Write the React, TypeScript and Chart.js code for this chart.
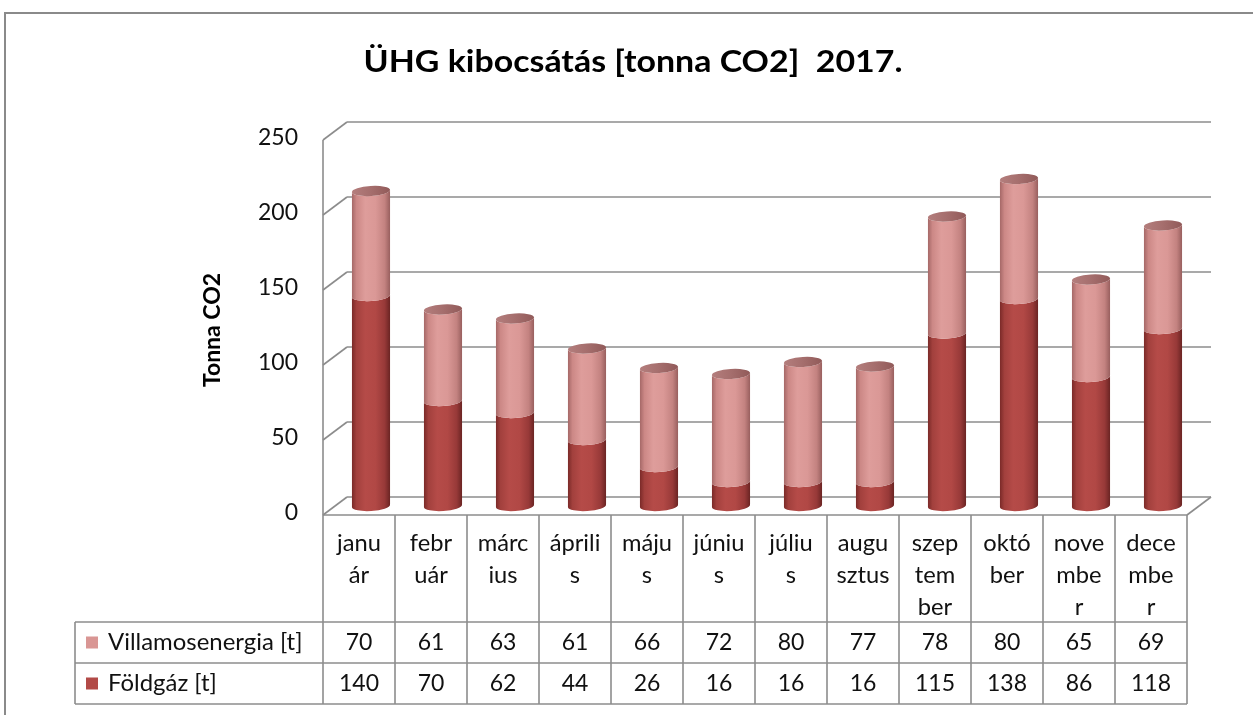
import React, { useEffect, useRef } from "react";
import { Chart, registerables } from "chart.js";
Chart.register(...registerables);

const categories = ["január", "február", "március", "április", "május", "június", "július", "augusztus", "szeptember", "október", "november", "december"];
const categoryLines = [["janu", "ár"], ["febr", "uár"], ["márc", "ius"], ["áprili", "s"], ["máju", "s"], ["júniu", "s"], ["júliu", "s"], ["augu", "sztus"], ["szep", "tem", "ber"], ["októ", "ber"], ["nove", "mbe", "r"], ["dece", "mbe", "r"]];
const villamos = [70, 61, 63, 61, 66, 72, 80, 77, 78, 80, 65, 69];
const foldgaz = [140, 70, 62, 44, 26, 16, 16, 16, 115, 138, 86, 118];
const yTicks = [0, 50, 100, 150, 200, 250];
const villamosName = "Villamosenergia [t]";
const foldgazName = "Földgáz [t]";
const titleText = "ÜHG kibocsátás [tonna CO2]  2017.";
const yTitleText = "Tonna CO2";

const DARK = "#B24A47";
const LIGHT = "#D99694";
const GRID = "#8c8c8c";
const FONT = "Lato, 'Open Sans', sans-serif";

const DX = 12; // depth half offset x
const DY = 9; // depth half offset y
const ROT = -0.06;

function mkGrad(ctx: CanvasRenderingContext2D, l: number, r: number, stops: [number, string][]) {
  const g = ctx.createLinearGradient(l, 0, r, 0);
  stops.forEach(([o, c]) => g.addColorStop(o, c));
  return g;
}

function drawText(ctx: CanvasRenderingContext2D, text: string, x: number, y: number, align: CanvasTextAlign, sx = 1) {
  ctx.save();
  ctx.translate(x, y);
  ctx.scale(sx, 1);
  ctx.textAlign = align;
  ctx.fillText(text, 0, 0);
  ctx.restore();
}

const darkStops: [number, string][] = [[0, "#7a2a28"], [0.12, "#a2403d"], [0.35, "#b54b48"], [0.62, "#b14845"], [0.86, "#973938"], [1, "#6a2423"]];
const lightStops: [number, string][] = [[0, "#a56867"], [0.12, "#cc8886"], [0.35, "#de9d9b"], [0.62, "#da9896"], [0.86, "#c38280"], [1, "#985f5e"]];
const capStops: [number, string][] = [[0, "#b47e7d"], [0.5, "#a56e6d"], [1, "#915a59"]];

const chartPlugin = {
  id: "cyl3d",
  beforeDatasetsDraw(chart: any) {
    const ctx: CanvasRenderingContext2D = chart.ctx;
    const ys = chart.scales.y;
    const ca = chart.chartArea;
    const fl = ca.left - DX, fr = ca.right - DX;
    const bl = ca.left + DX, br = ca.right + DX;
    ctx.save();
    ctx.strokeStyle = GRID;
    ctx.lineWidth = 1.6;
    yTicks.forEach((v) => {
      const py = ys.getPixelForValue(v);
      ctx.beginPath();
      ctx.moveTo(bl, py - DY);
      ctx.lineTo(br, py - DY);
      ctx.stroke();
      ctx.beginPath();
      ctx.moveTo(fl, py + DY);
      ctx.lineTo(bl, py - DY);
      ctx.stroke();
    });
    const topF = ys.getPixelForValue(yTicks[yTicks.length - 1]) + DY;
    const botF = ys.getPixelForValue(0) + DY;
    ctx.beginPath();
    ctx.moveTo(fl, topF);
    ctx.lineTo(fl, botF);
    ctx.stroke();
    ctx.beginPath();
    ctx.moveTo(fr, botF);
    ctx.lineTo(br, botF - 2 * DY);
    ctx.stroke();
    ctx.beginPath();
    ctx.moveTo(fl, botF);
    ctx.lineTo(fr, botF);
    ctx.stroke();
    ctx.fillStyle = "#111";
    ctx.font = `23px ${FONT}`;
    ctx.textBaseline = "middle";
    yTicks.forEach((v) => {
      drawText(ctx, String(v), 298, ys.getPixelForValue(v) + DY - 2, "right");
    });
    ctx.restore();
  },
  afterDatasetsDraw(chart: any) {
    const ctx: CanvasRenderingContext2D = chart.ctx;
    const nD = chart.data.datasets.length;
    ctx.save();
    for (let d = 0; d < nD; d++) {
      const meta = chart.getDatasetMeta(d);
      meta.data.forEach((el: any) => {
        const p = el.getProps(["x", "y", "base", "width"], true);
        const rx = p.width / 2;
        const ry = 5;
        const l = p.x - rx, r = p.x + rx;
        ctx.beginPath();
        ctx.ellipse(p.x, p.base, rx, ry, ROT, Math.PI, 0, true);
        ctx.lineTo(p.x + rx * Math.cos(ROT), p.y + rx * Math.sin(ROT));
        ctx.ellipse(p.x, p.y, rx, ry, ROT, 0, Math.PI, false);
        ctx.closePath();
        ctx.fillStyle = mkGrad(ctx, l, r, d === 0 ? darkStops : lightStops);
        ctx.fill();
        if (d === nD - 1) {
          ctx.beginPath();
          ctx.ellipse(p.x, p.y, rx, ry, ROT, 0, Math.PI * 2);
          ctx.fillStyle = mkGrad(ctx, l, r, capStops);
          ctx.fill();
        }
      });
    }
    ctx.restore();
  },
  afterDraw(chart: any) {
    const ctx: CanvasRenderingContext2D = chart.ctx;
    const xs = chart.scales.x;
    const ys = chart.scales.y;
    const n = categories.length;
    const cw = (xs.right - xs.left) / n;
    const colLeft = (i: number) => xs.getPixelForValue(0) - cw / 2 - DX + i * cw;
    const top = ys.getPixelForValue(0) + DY;
    const rowTop = 622, rowMid = 663, rowBot = 704, tableLeft = 75;
    ctx.save();
    ctx.strokeStyle = "#8a8a8a";
    ctx.lineWidth = 2;
    ctx.beginPath();
    ctx.moveTo(5, 720);
    ctx.lineTo(5, 13);
    ctx.lineTo(1260, 13);
    ctx.stroke();
    ctx.strokeStyle = GRID;
    ctx.lineWidth = 1.6;
    for (let i = 0; i <= n; i++) {
      ctx.beginPath();
      ctx.moveTo(colLeft(i), top);
      ctx.lineTo(colLeft(i), rowBot);
      ctx.stroke();
    }
    [rowTop, rowMid, rowBot].forEach((y) => {
      ctx.beginPath();
      ctx.moveTo(tableLeft, y);
      ctx.lineTo(colLeft(n), y);
      ctx.stroke();
    });
    ctx.beginPath();
    ctx.moveTo(tableLeft, rowTop);
    ctx.lineTo(tableLeft, rowBot);
    ctx.stroke();
    ctx.fillStyle = "#111";
    ctx.font = `23px ${FONT}`;
    ctx.textBaseline = "middle";
    categoryLines.forEach((lines, i) => {
      const cx = colLeft(i) + cw / 2;
      lines.forEach((s, k) => drawText(ctx, s, cx, 544 + k * 32, "center", 1.03));
    });
    const rows: [string, number[], string][] = [[villamosName, villamos, LIGHT], [foldgazName, foldgaz, DARK]];
    rows.forEach(([name, vals, col], ri) => {
      const cy = ri === 0 ? (rowTop + rowMid) / 2 : (rowMid + rowBot) / 2;
      vals.forEach((v, i) => drawText(ctx, String(v), colLeft(i) + cw / 2, cy, "center"));
      ctx.fillStyle = col;
      ctx.fillRect(86, cy - 6, 12, 12);
      ctx.fillStyle = "#111";
      drawText(ctx, name, 108, cy, "left", 1.04);
    });
    ctx.font = `bold 30px ${FONT}`;
    ctx.fillStyle = "#000";
    drawText(ctx, titleText, 633, 62, "center", 1.13);
    ctx.save();
    ctx.translate(213, 330);
    ctx.rotate(-Math.PI / 2);
    ctx.font = `bold 23px ${FONT}`;
    ctx.textAlign = "center";
    ctx.fillText(yTitleText, 0, 0);
    ctx.restore();
    ctx.restore();
  },
};

export default function App() {
  const ref = useRef<HTMLCanvasElement>(null);
  useEffect(() => {
    if (!ref.current) return;
    const chart = new Chart(ref.current, {
      type: "bar",
      data: {
        labels: categories,
        datasets: [
          { label: foldgazName, data: foldgaz, backgroundColor: "rgba(0,0,0,0)", borderWidth: 0, stack: "s" },
          { label: villamosName, data: villamos, backgroundColor: "rgba(0,0,0,0)", borderWidth: 0, stack: "s" },
        ],
      },
      options: {
        responsive: false,
        animation: false,
        layout: { padding: { left: 335, right: 54, top: 131, bottom: 209 } },
        scales: {
          x: { stacked: true, display: false, offset: true },
          y: { stacked: true, display: false, min: 0, max: 250 },
        },
        datasets: { bar: { categoryPercentage: 1, barPercentage: 0.53 } },
        plugins: { legend: { display: false }, tooltip: { enabled: false }, title: { display: false } },
      } as any,
      plugins: [chartPlugin],
    });
    return () => chart.destroy();
  }, []);
  return (
    <div style={{ position: "absolute", left: 0, top: 0, width: 1253, height: 715, background: "#fff" }}>
      <canvas ref={ref} width={1253} height={715} style={{ display: "block" }} />
    </div>
  );
}
